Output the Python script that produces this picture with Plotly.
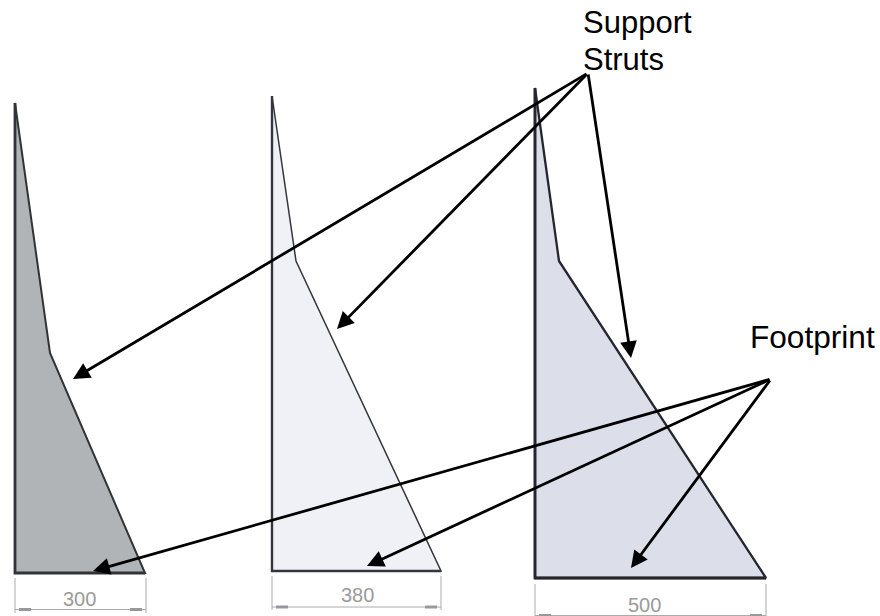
import plotly.graph_objects as go

# Outline vertices of the three struts (pixel-like drawing units)
strut_x = [[15, 15, 50, 145, 15], [272, 272, 296, 441, 272], [535, 535, 559, 766, 535]]
strut_y = [[573, 103, 353, 573, 573], [571, 96, 261, 571, 571], [578, 88, 261, 578, 578]]
strut_fill = ["#b1b4b6", "#f0f1f6", "#dcdfea"]
strut_line = ["#303436", "#34363c", "#25262e"]
strut_width = [2, 1.5, 2.3]
strut_base_width = [2.8, 2.4, 2.8]

# Dimension annotations
dim_labels = ["300", "380", "500"]
dim_left = [15, 272, 535]
dim_right = [146, 441, 766]
dim_top = [578, 576, 584]
dim_bottom = [613, 610, 616]
dim_line_y = [609.5, 607, 615.5]
dim_text_x = [79.5, 357, 644]
dim_text_y = [599, 595, 604.5]
dim_head = [16, 16, 16]

# Callouts
callout_labels = [("Support", 581, 22, 31), ("Struts", 581, 59, 31), ("Footprint", 748, 337, 31.6)]
callout_arrows_tail = [(588, 73), (588, 73), (588, 73), (771, 379), (771, 379), (771, 379)]
callout_arrows_tip = [(73, 379), (337, 329), (631, 358), (93, 571), (367, 566), (631, 568)]

GREY = "#a9abad"
fig = go.Figure()

for x, y, f, l, w, bw in zip(strut_x, strut_y, strut_fill, strut_line, strut_width, strut_base_width):
    fig.add_trace(go.Scatter(x=x, y=y, mode="lines", fill="toself", fillcolor=f,
                             line=dict(color=l, width=w), hoverinfo="skip"))
    # The upright and the base are drawn heavier than the sloping edges
    fig.add_trace(go.Scatter(x=[x[1], x[0], x[3]], y=[y[1], y[0], y[3]], mode="lines",
                             line=dict(color=l, width=bw), hoverinfo="skip"))

for lab, a, b, t, bt, ly, tx, ty, h in zip(dim_labels, dim_left, dim_right, dim_top, dim_bottom,
                                           dim_line_y, dim_text_x, dim_text_y, dim_head):
    fig.add_trace(go.Scatter(x=[a, a, None, b, b, None, a, b], y=[t, bt, None, t, bt, None, ly, ly],
                             mode="lines", line=dict(color=GREY, width=1), hoverinfo="skip"))
    fig.add_trace(go.Scatter(x=[a + 4, a + h, None, b - h, b - 4], y=[ly, ly, None, ly, ly],
                             mode="lines", line=dict(color="#97999b", width=3), hoverinfo="skip"))
    fig.add_annotation(x=tx, y=ty, text=lab, showarrow=False,
                       font=dict(family="Liberation Sans", size=20, color="#9a9a9a"))

for (tx, ty), (hx, hy) in zip(callout_arrows_tail, callout_arrows_tip):
    fig.add_annotation(x=hx, y=hy, ax=tx, ay=ty, xref="x", yref="y", axref="x", ayref="y", text="",
                       showarrow=True, arrowhead=2, arrowsize=1.2, arrowwidth=2.8, arrowcolor="#000000")

for text, x, y, size in callout_labels:
    fig.add_annotation(x=x, y=y, text=text, showarrow=False, xanchor="left", align="left",
                       font=dict(family="Liberation Sans", size=size, color="#000000"))

fig.update_layout(width=880, height=616, margin=dict(l=0, r=0, t=0, b=0), showlegend=False,
                  paper_bgcolor="white", plot_bgcolor="white",
                  xaxis=dict(range=[0, 880], visible=False, fixedrange=True),
                  yaxis=dict(range=[616, 0], visible=False, fixedrange=True))
fig.write_html("out.html", config=dict(displayModeBar=False),
               post_script="document.body.style.margin='0';document.body.style.overflow='hidden';")
